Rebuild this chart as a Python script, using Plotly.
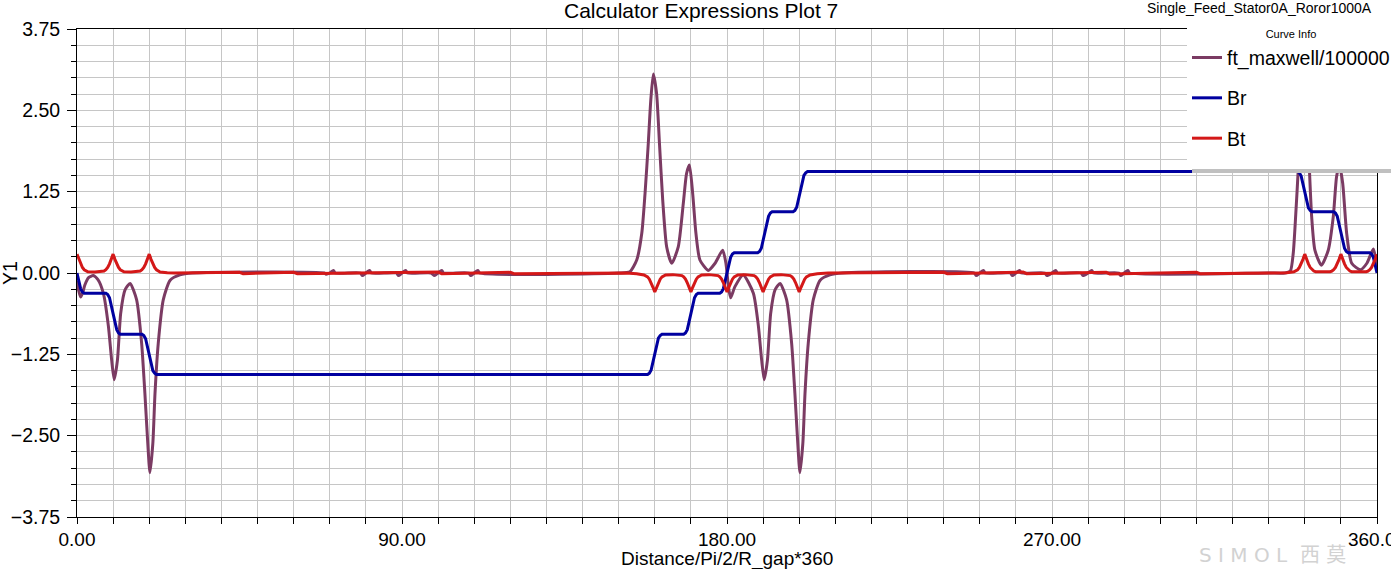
import plotly.graph_objects as go

# ---------------- data ----------------
# ft_maxwell/100000 (purple)
ft_left_x = [0.0, 0.4, 1.0, 1.6, 2.2, 3.2, 4.5, 5.8, 7.3, 8.7, 9.6, 10.3, 11.2, 12.1, 13.3,
             14.7, 16.5, 17.9, 18.8, 19.6, 20.2, 21.0, 21.6, 22.5, 23.9, 25.8, 28.5, 32.0]
ft_left_y = [-0.12, -0.25, -0.37, -0.30, -0.18, -0.07, -0.04, -0.10, -0.31, -0.82, -1.34, -1.64, -1.34, -0.62, -0.26,
             -0.16, -0.41, -1.08, -1.85, -2.62, -3.07, -2.62, -1.85, -1.08, -0.41, -0.11, -0.03, 0.0]
ft_flat1_x = [68.5, 69.0, 70.0, 71.0, 71.5, 78.5, 79.0, 80.0, 81.0, 81.5, 88.5, 89.0, 90.0, 91.0, 91.5,
              98.0, 99.0, 100.0, 101.0, 101.5, 108.5, 109.0, 110.0, 111.0, 111.5]
ft_flat1_y = [0.0, -0.02, 0.0, 0.04, 0.0, 0.0, -0.04, 0.0, 0.04, 0.0, 0.0, -0.04, 0.0, 0.04, 0.0,
              0.0, -0.04, 0.0, 0.04, 0.0, 0.0, -0.04, 0.0, 0.04, 0.0]
ft_mid_x = [150.0, 153.1, 155.0, 156.4, 157.3, 158.2, 158.9, 159.6, 160.5, 161.3, 162.2, 163.3, 164.7,
            166.5, 167.9, 168.8, 169.6, 170.5, 171.4, 172.5, 174.8, 176.7, 178.8, 179.7, 180.4, 181.0,
            182.2, 184.5, 187.3, 188.7, 189.6, 190.3, 191.2, 192.1, 193.3, 194.7, 196.5, 197.9, 198.8,
            199.6, 200.2, 201.0, 201.6, 202.5, 203.9, 205.8, 208.5, 212.0]
ft_mid_y = [0.0, 0.02, 0.20, 0.61, 1.22, 1.99, 2.66, 3.06, 2.76, 1.99, 1.12, 0.40, 0.15,
            0.40, 1.07, 1.53, 1.66, 1.22, 0.61, 0.20, 0.04, 0.15, 0.35, 0.15, -0.21, -0.38,
            -0.21, -0.03, -0.31, -0.82, -1.34, -1.64, -1.34, -0.62, -0.26, -0.16, -0.41, -1.08, -1.85,
            -2.62, -3.07, -2.62, -1.85, -1.08, -0.41, -0.11, -0.03, 0.0]
ft_flat2_x = [248.5, 249.0, 250.0, 251.0, 251.5, 258.5, 259.0, 260.0, 261.0, 261.5, 268.0, 268.6, 270.0, 271.0, 271.5,
              278.0, 278.6, 280.0, 281.0, 281.5, 288.5, 289.0, 290.0, 291.0, 291.5]
ft_flat2_y = [0.0, -0.04, 0.0, 0.04, 0.0, 0.0, -0.04, 0.0, 0.04, 0.0, 0.0, -0.04, 0.0, 0.04, 0.0,
              0.0, -0.04, 0.0, 0.04, 0.0, 0.0, -0.04, 0.0, 0.04, 0.0]
ft_right_x = [330.0, 334.5, 336.0, 336.8, 337.5, 338.2, 338.9, 339.6, 340.4, 341.2, 341.9, 342.8, 344.6,
              346.5, 347.9, 348.8, 349.6, 350.5, 351.6, 353.0, 355.4, 357.2, 359.0, 360.0]
ft_right_y = [0.0, 0.0, 0.03, 0.30, 0.90, 1.60, 2.50, 3.05, 2.75, 1.70, 0.87, 0.35, 0.12,
              0.35, 0.87, 1.48, 1.66, 1.38, 0.61, 0.15, 0.05, 0.15, 0.37, 0.10]

# Br (blue)
br_a_x = [0.0, 0.5, 1.0, 1.5, 2.0,
          8.0, 8.5, 9.0, 9.5, 10.0, 10.5, 11.0, 11.5, 12.0,
          18.0, 18.5, 19.0, 19.5, 20.0, 20.5, 21.0, 21.5, 22.0]
br_a_y = [0.0, -0.12, -0.24, -0.29, -0.31,
          -0.31, -0.33, -0.38, -0.50, -0.62, -0.75, -0.87, -0.92, -0.94,
          -0.94, -0.96, -1.01, -1.13, -1.25, -1.38, -1.50, -1.54, -1.56]
br_b_x = [158.0, 158.5, 159.0, 159.5, 160.0, 160.5, 161.0, 161.5, 162.0,
          168.0, 168.5, 169.0, 169.5, 170.0, 170.5, 171.0, 171.5, 172.0,
          178.0, 178.5, 179.0, 179.5, 180.0, 180.5, 181.0, 181.5, 182.0,
          188.5, 189.0, 189.5, 190.0, 190.5, 191.0, 191.5, 192.0, 192.5,
          198.3, 198.8, 199.3, 199.8, 200.3, 200.8, 201.3, 201.8, 202.3]
br_b_y = [-1.56, -1.54, -1.49, -1.37, -1.25, -1.12, -1.00, -0.96, -0.94,
          -0.94, -0.92, -0.87, -0.75, -0.62, -0.50, -0.38, -0.33, -0.31,
          -0.31, -0.29, -0.24, -0.12, 0.0, 0.12, 0.24, 0.29, 0.31,
          0.31, 0.33, 0.38, 0.50, 0.62, 0.75, 0.87, 0.92, 0.94,
          0.94, 0.96, 1.01, 1.13, 1.25, 1.38, 1.50, 1.54, 1.56]
br_c_x = [338.0, 338.5, 339.0, 339.5, 340.0, 340.5, 341.0, 341.5, 342.0,
          348.0, 348.5, 349.0, 349.5, 350.0, 350.5, 351.0, 351.5, 352.0,
          358.0, 358.5, 359.0, 359.5, 360.0]
br_c_y = [1.56, 1.54, 1.49, 1.37, 1.25, 1.12, 1.00, 0.96, 0.94,
          0.94, 0.92, 0.87, 0.75, 0.62, 0.50, 0.38, 0.33, 0.31,
          0.31, 0.29, 0.24, 0.12, 0.0]

# Bt (red)
bt_a_x = [0.0, 0.5, 1.0, 1.5, 2.0, 2.5, 3.0, 5.0, 7.0, 7.5, 8.0, 8.5, 9.0, 9.5,
          10.0, 10.5, 11.0, 11.5, 12.0, 12.5, 13.0, 15.0, 17.0, 17.5, 18.0, 18.5, 19.0, 19.5,
          20.0, 20.5, 21.0, 21.5, 22.0, 22.5, 23.0, 25.0, 27.0]
bt_a_y = [0.29, 0.21, 0.14, 0.085, 0.05, 0.03, 0.02, 0.015, 0.02, 0.03, 0.05, 0.085, 0.14, 0.21,
          0.29, 0.21, 0.14, 0.085, 0.05, 0.03, 0.02, 0.015, 0.02, 0.03, 0.05, 0.085, 0.14, 0.21,
          0.29, 0.21, 0.14, 0.085, 0.05, 0.03, 0.015, 0.005, 0.0]
bt_noise1_x = [45.0, 46.0, 60.0, 61.0, 100.0, 101.0, 120.0, 121.0]
bt_noise1_y = [0.01, -0.01, 0.01, -0.01, 0.015, -0.01, 0.01, -0.01]
bt_b_x = [152.0, 155.0, 157.0, 157.5, 158.0, 158.5, 159.0, 159.5, 160.0, 160.5, 161.0, 161.5, 162.0, 162.5, 163.0, 165.0,
          167.0, 167.5, 168.0, 168.5, 169.0, 169.5, 170.0, 170.5, 171.0, 171.5, 172.0, 172.5, 173.0, 175.0,
          177.0, 177.5, 178.0, 178.5, 179.0, 179.5, 180.0, 180.5, 181.0, 181.5, 182.0, 182.5, 183.0, 185.0,
          187.0, 187.5, 188.0, 188.5, 189.0, 189.5, 190.0, 190.5, 191.0, 191.5, 192.0, 192.5, 193.0, 195.0,
          197.0, 197.5, 198.0, 198.5, 199.0, 199.5, 200.0, 200.5, 201.0, 201.5, 202.0, 202.5, 203.0, 205.0, 208.0]
bt_b_y = [0.0, -0.01, -0.03, -0.04, -0.06, -0.095, -0.15, -0.22, -0.29, -0.22, -0.15, -0.095, -0.06, -0.04, -0.03, -0.025,
          -0.03, -0.04, -0.06, -0.095, -0.15, -0.22, -0.29, -0.22, -0.15, -0.095, -0.06, -0.04, -0.03, -0.025,
          -0.03, -0.04, -0.06, -0.095, -0.15, -0.22, -0.29, -0.22, -0.15, -0.095, -0.06, -0.04, -0.03, -0.025,
          -0.03, -0.04, -0.06, -0.095, -0.15, -0.22, -0.29, -0.22, -0.15, -0.095, -0.06, -0.04, -0.03, -0.025,
          -0.03, -0.04, -0.06, -0.095, -0.15, -0.22, -0.29, -0.22, -0.15, -0.095, -0.06, -0.04, -0.03, -0.01, 0.0]
bt_noise2_x = [240.0, 241.0, 262.0, 263.0, 285.0, 286.0, 310.0, 311.0]
bt_noise2_y = [0.01, -0.01, 0.015, -0.01, 0.01, -0.015, 0.01, -0.01]
bt_c_x = [330.0, 335.0, 337.0, 337.5, 338.0, 338.5, 339.0, 339.5, 340.0, 340.5, 341.0, 341.5, 342.0, 342.5, 343.0, 345.0,
          347.0, 347.5, 348.0, 348.5, 349.0, 349.5, 350.0, 350.5, 351.0, 351.5, 352.0, 352.5, 353.0, 355.0,
          357.0, 357.5, 358.0, 358.5, 359.0, 359.5, 360.0]
bt_c_y = [0.0, 0.005, 0.02, 0.03, 0.05, 0.085, 0.14, 0.21, 0.29, 0.21, 0.14, 0.085, 0.05, 0.03, 0.02, 0.015,
          0.02, 0.03, 0.05, 0.085, 0.14, 0.21, 0.29, 0.21, 0.14, 0.085, 0.05, 0.03, 0.02, 0.015,
          0.02, 0.03, 0.05, 0.085, 0.14, 0.21, 0.29]

x_ticks = [0, 90, 180, 270, 360]
y_ticks = [-3.75, -2.50, -1.25, 0.00, 1.25, 2.50, 3.75]

# ---------------- assemble ----------------
ft_x = ft_left_x + ft_flat1_x + ft_mid_x + ft_flat2_x + ft_right_x
ft_y = ft_left_y + ft_flat1_y + ft_mid_y + ft_flat2_y + ft_right_y
br_x = br_a_x + br_b_x + br_c_x
br_y = br_a_y + br_b_y + br_c_y
bt_x = bt_a_x + bt_noise1_x + bt_b_x + bt_noise2_x + bt_c_x
bt_y = bt_a_y + bt_noise1_y + bt_b_y + bt_noise2_y + bt_c_y

PURPLE = "#7B3B63"
BLUE = "#0000A0"
RED = "#D41818"
GRID = "#C6C6C6"
FONT = "Liberation Sans, Arial, sans-serif"

W, H = 1391, 569
L, R, T, B = 77, 14, 29, 52
PW, PH = W - L - R, H - T - B


def px(xp):
    return (xp - L) / PW


def py(yp):
    return (H - B - yp) / PH


fig = go.Figure()
fig.add_trace(go.Scatter(x=ft_x, y=ft_y, mode="lines", name="ft_maxwell/100000", legendgroup="g1",
                         line=dict(color=PURPLE, width=3, shape="spline", smoothing=0.6)))
fig.add_trace(go.Scatter(x=br_x, y=br_y, mode="lines", name="Br", legendgroup="g2",
                         line=dict(color=BLUE, width=3)))
fig.add_trace(go.Scatter(x=bt_x, y=bt_y, mode="lines", name="Bt", legendgroup="g3",
                         line=dict(color=RED, width=3)))

axis_common = dict(
    showline=True, linecolor="black", linewidth=1, mirror=True,
    showgrid=True, gridcolor=GRID, gridwidth=1, zeroline=False,
    ticks="outside", tickcolor="black", tickformat=".2f",
)

fig.update_layout(
    width=W, height=H,
    margin=dict(l=L, r=R, t=T, b=B, pad=0, autoexpand=False),
    paper_bgcolor="white", plot_bgcolor="white",
    font=dict(family=FONT, color="black"),
    xaxis=dict(range=[0, 360], tickmode="array", tickvals=x_ticks, ticklen=5,
               ticklabeloverflow="allow",
               tickfont=dict(family=FONT, size=19, color="black"),
               minor=dict(dtick=10, tick0=0, ticks="outside", ticklen=6, tickcolor="black",
                          showgrid=True, gridcolor=GRID, gridwidth=1),
               automargin=False, **axis_common),
    yaxis=dict(range=[-3.75, 3.75], tickmode="array", tickvals=y_ticks, ticklen=9,
               ticklabelstandoff=3,
               tickfont=dict(family=FONT, size=19.5, color="black"),
               minor=dict(dtick=0.25, tick0=0, ticks="outside", ticklen=5, tickcolor="black",
                          showgrid=True, gridcolor=GRID, gridwidth=1),
               automargin=False, **axis_common),
    legend=dict(x=px(1187), y=py(24), xanchor="left", yanchor="top",
                bgcolor="white", borderwidth=0,
                font=dict(family=FONT, size=19.5, color="black"),
                title=dict(text="Curve Info", side="top center", font=dict(family=FONT, size=11)),
                tracegroupgap=12, itemwidth=30),
    showlegend=True,
)

# white backing of the curve-info box and its grey lower edge
fig.add_shape(type="rect", xref="paper", yref="paper", x0=px(1187), x1=px(1395), y0=py(169), y1=py(20),
              fillcolor="white", line=dict(width=0), layer="above")
fig.add_shape(type="rect", xref="paper", yref="paper", x0=px(1192), x1=px(1395), y0=py(173), y1=py(169),
              fillcolor="#C0C0C0", line=dict(width=0), layer="above")

fig.add_annotation(text="Calculator Expressions Plot 7", xref="paper", yref="paper",
                   x=px(700.5), y=py(10), xanchor="center", yanchor="middle", showarrow=False,
                   font=dict(family=FONT, size=21, color="black"))
fig.add_annotation(text="Single_Feed_Stator0A_Roror1000A", xref="paper", yref="paper",
                   x=px(1259.5), y=py(8), xanchor="center", yanchor="middle", showarrow=False,
                   font=dict(family=FONT, size=14, color="black"))
fig.add_annotation(text="Y1", xref="paper", yref="paper", x=px(10), y=py(273), textangle=-90,
                   xanchor="center", yanchor="middle", showarrow=False,
                   font=dict(family=FONT, size=19.5, color="black"))
fig.add_annotation(text="Distance/Pi/2/R_gap*360", xref="paper", yref="paper", x=px(726.5), y=py(559),
                   xanchor="center", yanchor="middle", showarrow=False,
                   font=dict(family=FONT, size=19, color="black"))
fig.add_annotation(text="S I M O L  西 莫", xref="paper", yref="paper", x=px(1272), y=py(555),
                   xanchor="center", yanchor="middle", showarrow=False,
                   font=dict(family="DejaVu Sans, Noto Sans CJK SC, sans-serif", size=20, color="#D2D2D2"))

fig.write_html("out.html")
